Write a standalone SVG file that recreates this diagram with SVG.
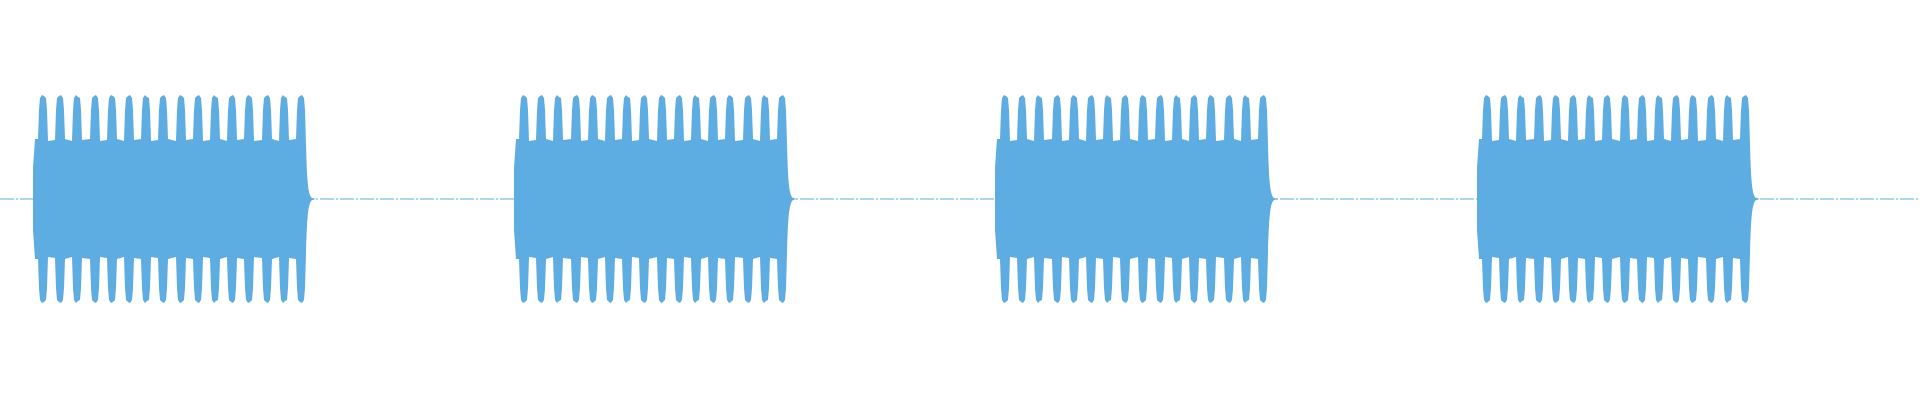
<svg xmlns="http://www.w3.org/2000/svg" width="1920" height="400" viewBox="0 0 1920 400">
<style>.w{fill:#5dade2}.b{stroke:#5dade2;stroke-width:1;stroke-dasharray:14 2 2 2}</style>
<defs>
<path id="h" d="M0,199 V168 L2,139
L5,139 6,110 7,98 9,95 11,96 13,98 14,110 15,141
L22,140 23,110 24,98 26,96 28,95 30,98 31,110 32,139
L39,141 40,110 41,98 43,95 45,97 47,98 48,110 49,140
L57,139 58,110 59,98 61,96 63,95 65,98 66,110 67,141
L74,140 75,110 76,98 78,95 80,96 82,98 83,110 84,139
L91,141 92,110 93,98 95,96 97,95 99,98 100,110 101,140
L108,139 109,110 110,98 112,95 114,97 116,98 117,110 118,141
L125,140 126,110 127,98 129,96 131,95 133,98 134,110 135,139
L143,141 144,110 145,98 147,95 149,96 151,98 152,110 153,140
L160,139 161,110 162,98 164,96 166,95 168,98 169,110 170,141
L177,140 178,110 179,98 181,95 183,97 185,98 186,110 187,139
L194,141 195,110 196,98 198,96 200,95 202,98 203,110 204,140
L211,139 212,110 213,98 215,95 217,96 219,98 220,110 221,141
L229,140 230,110 231,98 233,96 235,95 237,98 238,110 239,139
L246,141 247,110 248,98 250,95 252,97 254,98 255,110 256,140
L263,139 264,110 265,98 267,96 269,95 271,98 272,110 273,145
C274,180 275,195 279,198 L283,199 Z"/>
<g id="burst"><use href="#h" class="w"/><use href="#h" class="w" transform="matrix(1 0 0 -1 0 398)"/></g>
</defs>
<g id="baseline"><line class="b" x1="0" y1="199" x2="1920" y2="199"/></g>
<g id="burst1" transform="translate(33,0)"><use href="#burst"/></g>
<g id="burst2" transform="translate(514,0)"><use href="#burst"/></g>
<g id="burst3" transform="translate(995,0)"><use href="#burst"/></g>
<g id="burst4" transform="translate(1477,0)"><use href="#burst"/></g>
</svg>
